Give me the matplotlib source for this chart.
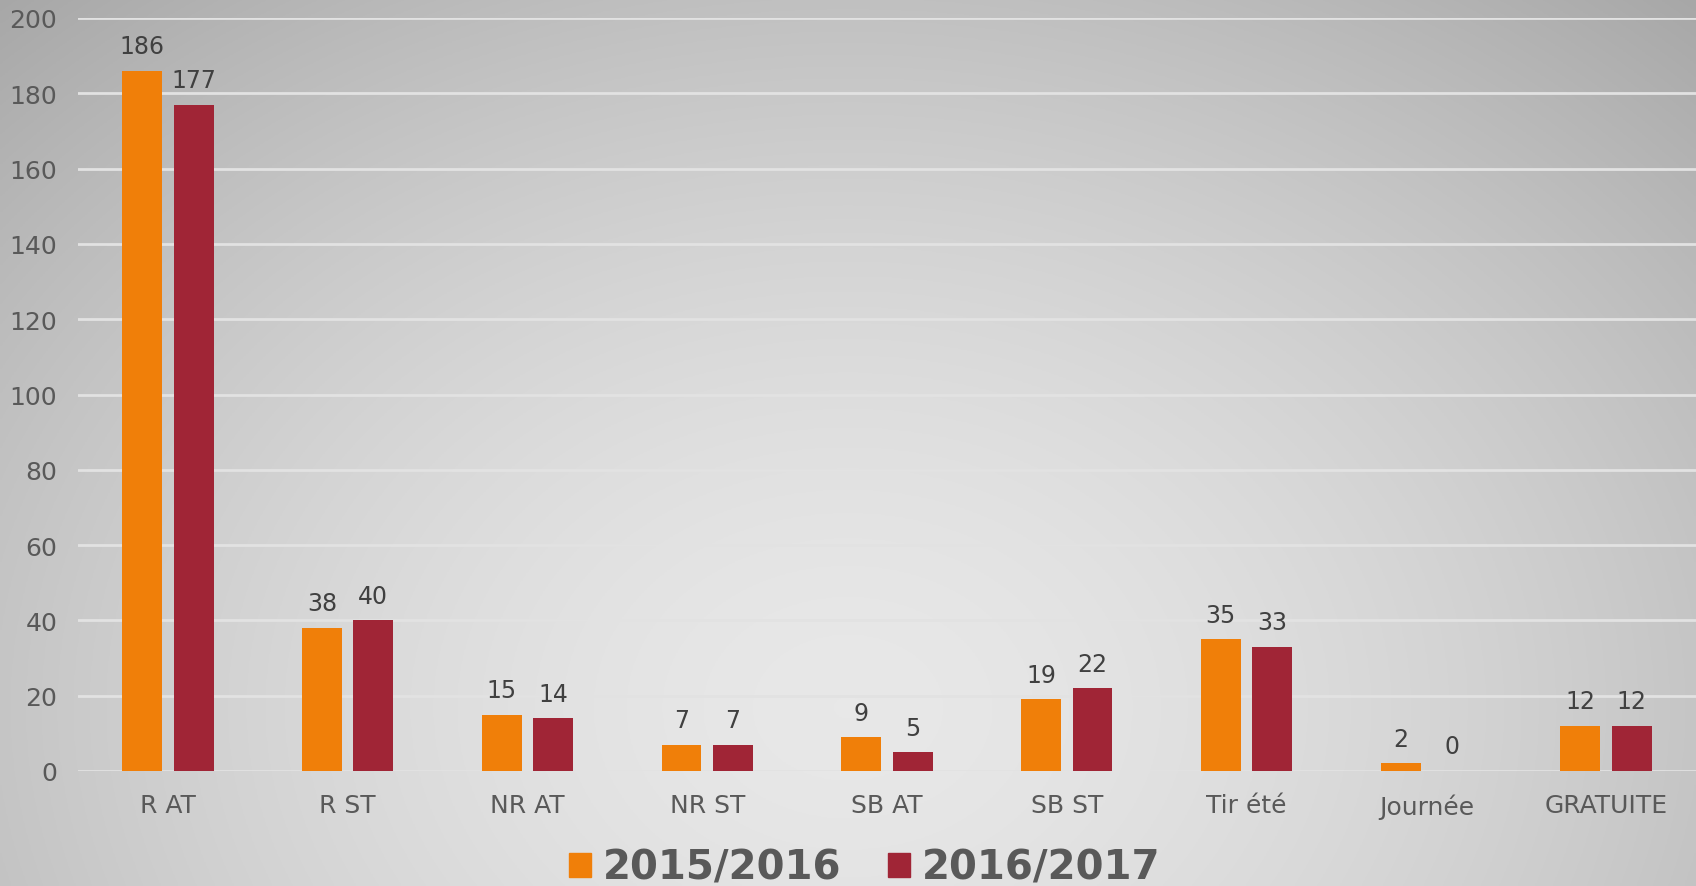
import numpy as np
import matplotlib
matplotlib.use("Agg")
import matplotlib.pyplot as plt
from matplotlib.patches import Patch

categories = ["R AT", "R ST", "NR AT", "NR ST", "SB AT", "SB ST", "Tir été", "Journée", "GRATUITE"]
series_names = ["2015/2016", "2016/2017"]
values_2015 = [186, 38, 15, 7, 9, 19, 35, 2, 12]
values_2016 = [177, 40, 14, 7, 5, 22, 33, 0, 12]
yticks = [0, 20, 40, 60, 80, 100, 120, 140, 160, 180, 200]

c_orange = "#F07F09"
c_red = "#A02536"
txt = "#595959"
lbl = "#404040"

W, H = 1696, 887
fig = plt.figure(figsize=(W / 100, H / 100), dpi=100)

# radial gradient background
bg = fig.add_axes([0, 0, 1, 1])
bg.set_axis_off()
yy, xx = np.mgrid[0:1:300j, 0:1:600j]
cx, cy = 0.5, 0.80  # cy from top
d = np.sqrt(((xx - cx) / 0.75) ** 2 + ((yy - cy) / 1.1) ** 2)
g = 0.91 - 0.26 * np.clip(d, 0, 1.3) ** 1.6
g = np.clip(g, 0.62, 0.92)
img = np.dstack([g, g, g])
bg.imshow(img, extent=[0, 1, 0, 1], origin="upper", aspect="auto")
bg.set_xlim(0, 1)
bg.set_ylim(0, 1)

ax = fig.add_axes([78 / W, 1 - 772 / H, 1 - 78 / W, (772 - 19) / H])
ax.patch.set_alpha(0)
x = np.arange(len(categories))
bw = 0.222
off = 0.143
b1 = ax.bar(x - off, values_2015, bw, color=c_orange, zorder=3)
b2 = ax.bar(x + off, values_2016, bw, color=c_red, zorder=3)

for bars, vals in ((b1, values_2015), (b2, values_2016)):
    for rect, v in zip(bars, vals):
        ax.annotate(str(v), (rect.get_x() + rect.get_width() / 2, v),
                    xytext=(0, 9), textcoords="offset points",
                    ha="center", va="bottom", fontsize=17, color=lbl, zorder=4)

ax.set_xlim(-0.5, len(categories) - 0.5)
ax.set_ylim(0, 200)
ax.set_yticks(yticks)
ax.set_yticklabels([str(t) for t in yticks])
ax.set_xticks(x)
ax.set_xticklabels(categories)
ax.tick_params(axis="y", length=0, labelsize=18, labelcolor=txt, pad=15)
ax.tick_params(axis="x", length=0, labelsize=18, labelcolor=txt, pad=16)
ax.grid(axis="y", color="#e2e2e2", linewidth=2, zorder=1)
for s in ax.spines.values():
    s.set_visible(False)

handles = [Patch(color=c_orange, label=series_names[0]),
           Patch(color=c_red, label=series_names[1])]
leg = fig.legend(handles=handles, loc="center", bbox_to_anchor=(0.51, 1 - 869 / H),
                 ncol=2, frameon=False, handlelength=0.55, handleheight=0.55,
                 handletextpad=0.3, columnspacing=1.15,
                 prop={"size": 29, "weight": "bold"})
for t in leg.get_texts():
    t.set_color(txt)

fig.savefig("out.png", dpi=100)
